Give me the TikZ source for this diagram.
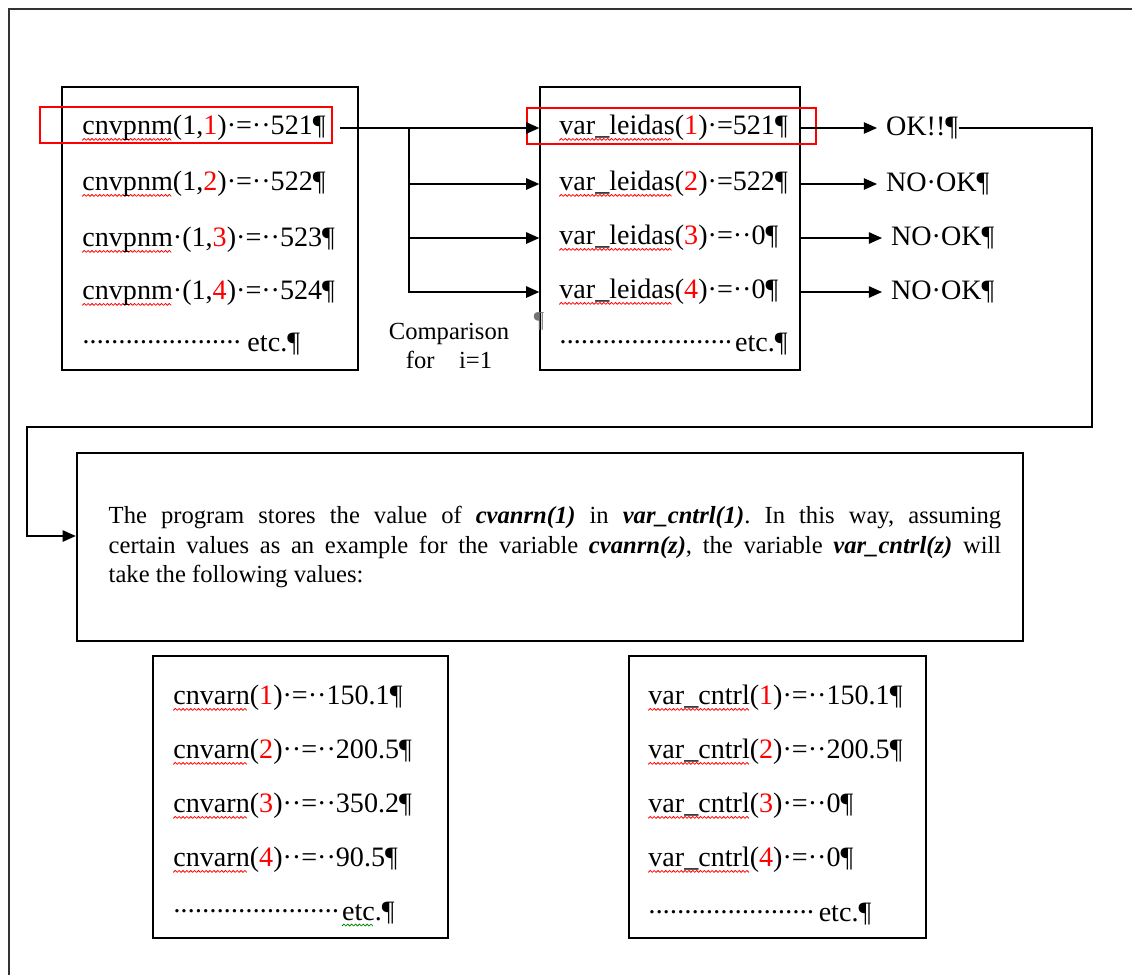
\documentclass[tikz,border=0pt]{standalone}
\usepackage{fontspec}
\setmainfont{Liberation Serif}
\usetikzlibrary{arrows.meta}
\frenchspacing
\newsavebox{\redzig}
\newsavebox{\greenzig}
\newcommand{\makezig}[2]{\sbox{#1}{\begin{pgfpicture}
  \pgfsetstrokecolor{#2}\pgfsetlinewidth{0.45pt}
  \pgfpathmoveto{\pgfpoint{0pt}{0pt}}\pgfpathlineto{\pgfpoint{1.1pt}{1.1pt}}\pgfpathlineto{\pgfpoint{2.2pt}{0pt}}
  \pgfusepath{stroke}\pgfresetboundingbox
  \pgfpathrectangle{\pgfpoint{0pt}{0pt}}{\pgfpoint{2.2pt}{1.1pt}}\pgfusepath{use as bounding box}
  \end{pgfpicture}}}
\newcommand{\zigline}[2]{\setbox0\hbox{#2}\rlap{\lower3.2pt\hbox to\wd0{\leaders\copy#1\hfil}}\box0}
\newcommand{\redwave}[1]{\zigline{\redzig}{#1}}
\newcommand{\greenwave}[1]{\zigline{\greenzig}{#1}}
\newcommand{\rednum}[1]{\textcolor{red}{#1}}
\newcommand{\leader}[1]{\leaders\hbox to 4.1pt{\hss·\hss}\hskip #1}
\newcommand{\bvar}[1]{\textbf{\textit{#1}}}
\begin{document}
\makezig{\redzig}{red}
\makezig{\greenzig}{green!55!black}
\begin{tikzpicture}[x=0.02cm, y=-0.02cm,
    panel/.style={draw, line width=0.8pt, inner sep=0pt},
    redmark/.style={draw=red, line width=1.2pt, inner sep=0pt},
    entry/.style={anchor=west, inner sep=0pt, font=\fontsize{16}{19}\selectfont},
    verdict/.style={anchor=west, inner xsep=5pt, inner ysep=0pt, font=\fontsize{16}{19}\selectfont},
    link/.style={line width=0.8pt},
    conn/.style={link, -{Triangle[length=7.5pt, width=6.5pt]}}]
      \useasboundingbox (0,0) rectangle (1132,975);
      % page frame
      \draw[line width=0.9pt, black!80] (9,975) -- (9,9) -- (1132,9);
      % tables
      \node[panel, minimum width=5.92cm, minimum height=5.66cm] (pnm) at (210,228.5) {};
      \node[panel, minimum width=5.2cm, minimum height=5.66cm] (leidas) at (670,228.5) {};
      \node[panel, minimum width=5.9cm, minimum height=5.64cm] (varn) at (300.5,797) {};
      \node[panel, minimum width=5.94cm, minimum height=5.64cm] (cntrl) at (777.5,797) {};
      % first table
      \node[entry] (a1) at (82,128) {\redwave{cnvpnm}(1,\rednum{1})·=··521¶};
      \node[entry] (a2) at (82,184) {\redwave{cnvpnm}(1,\rednum{2})·=··522¶};
      \node[entry] (a3) at (82,240) {\redwave{cnvpnm}·(1,\rednum{3})·=··523¶};
      \node[entry] (a4) at (82,293) {\redwave{cnvpnm}·(1,\rednum{4})·=··524¶};
      \node[entry] (a5) at (82,344) {\leader{94pt}etc.¶};
      % second table
      \node[entry] (b1) at (559,128) {\redwave{var\_leidas}(\rednum{1})·=521¶};
      \node[entry] (b2) at (559,184) {\redwave{var\_leidas}(\rednum{2})·=522¶};
      \node[entry] (b3) at (559,238) {\redwave{var\_leidas}(\rednum{3})·=··0¶};
      \node[entry] (b4) at (559,292) {\redwave{var\_leidas}(\rednum{4})·=··0¶};
      \node[entry] (b5) at (559,344) {\leader{100pt}etc.¶};
      % marked rows
      \node[redmark, minimum width=5.84cm, minimum height=0.72cm] (markA) at (186,125) {};
      \node[redmark, minimum width=5.78cm, minimum height=0.72cm] (markB) at (671.5,126) {};
      % comparison
      \node[align=center, inner sep=0pt, font=\fontsize{14}{16}\selectfont] (cmp) at (449,346) {Comparison\\for\quad i=1};
      \node[inner sep=0pt, text=black!55, font=\fontsize{13}{13}\selectfont] (stray) at (539,321) {¶};
      \coordinate (fork) at (409,128);
      \draw[conn] ([xshift=0.28cm]a1.east) -- (b1 -| leidas.west);
      \foreach \k in {2,3,4}
        \draw[conn] (fork) |- (b\k -| leidas.west);
      % results
      \node[verdict] (v1) at (877,128) {OK!!¶};
      \node[verdict] (v2) at (877,184) {NO·OK¶};
      \node[verdict] (v3) at (882,238) {NO·OK¶};
      \node[verdict] (v4) at (882,292) {NO·OK¶};
      \foreach \k in {1,...,4}
        \draw[conn] (b\k -| leidas.east) -- (v\k.west);
      % explanation
      \node[draw, line width=1.5pt, minimum width=18.92cm, minimum height=3.76cm] (info) at (550,547) {};
      \node[text width=508pt, align=justify, inner sep=0pt, font=\fontsize{14}{16.7}\selectfont] (infotext) at (555,547)
        {The program stores the value of \bvar{cvanrn(1)} in \bvar{var\_cntrl(1)}. In this way, assuming\linebreak
         certain values as an example for the variable \bvar{cvanrn(z)}, the variable \bvar{var\_cntrl(z)} will\linebreak
         take the following values:};
      \coordinate (upR) at (1092,427);
      \coordinate (upL) at (27,427);
      \draw[conn] ([xshift=-5pt]v1.east) -| (upR) -- (upL) |- ([yshift=0.22cm]info.west);
      % third table
      \node[entry] (c1) at (173,698) {\redwave{cnvarn}(\rednum{1})·=··150.1¶};
      \node[entry] (c2) at (173,752) {\redwave{cnvarn}(\rednum{2})··=··200.5¶};
      \node[entry] (c3) at (173,806) {\redwave{cnvarn}(\rednum{3})··=··350.2¶};
      \node[entry] (c4) at (173,860) {\redwave{cnvarn}(\rednum{4})··=··90.5¶};
      \node[entry] (c5) at (173,914) {\leader{96pt}\greenwave{etc}.¶};
      % fourth table
      \node[entry] (d1) at (648,698) {\redwave{var\_cntrl}(\rednum{1})·=··150.1¶};
      \node[entry] (d2) at (648,752) {\redwave{var\_cntrl}(\rednum{2})·=··200.5¶};
      \node[entry] (d3) at (648,806) {\redwave{var\_cntrl}(\rednum{3})·=··0¶};
      \node[entry] (d4) at (648,860) {\redwave{var\_cntrl}(\rednum{4})·=··0¶};
      \node[entry] (d5) at (648,914) {\leader{97pt}etc.¶};
    \end{tikzpicture}
\end{document}
